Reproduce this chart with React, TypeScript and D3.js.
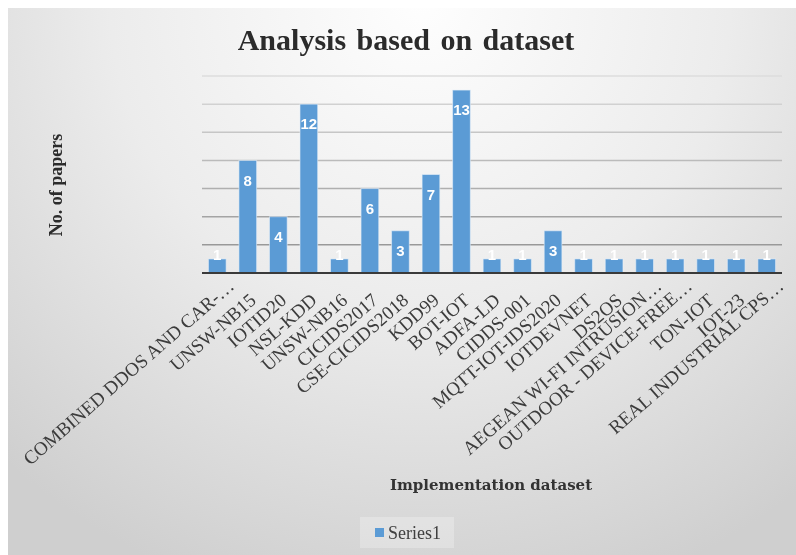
import React from "react";
import * as d3 from "d3";

const categories = [
  "COMBINED DDOS AND CAR-…",
  "UNSW-NB15",
  "IOTID20",
  "NSL-KDD",
  "UNSW-NB16",
  "CICIDS2017",
  "CSE-CICIDS2018",
  "KDD99",
  "BOT-IOT",
  "ADFA-LD",
  "CIDDS-001",
  "MQTT-IOT-IDS2020",
  "IOTDEVNET",
  "DS2OS",
  "AEGEAN WI-FI INTRUSION…",
  "OUTDOOR - DEVICE-FREE…",
  "TON-IOT",
  "IOT-23",
  "REAL INDUSTRIAL CPS…",
];
const series1 = [1, 8, 4, 12, 1, 6, 3, 7, 13, 1, 1, 3, 1, 1, 1, 1, 1, 1, 1];
const gridTicks = [2, 4, 6, 8, 10, 12, 14];
const seriesName = "Series1";
const title = "Analysis based on dataset";
const yTitle = "No. of papers";
const xTitle = "Implementation dataset";

export default function App() {
  const left = 202;
  const right = 782;
  const top = 76;
  const bottom = 273;
  const x = d3
    .scaleBand<string>()
    .domain(categories)
    .range([left, right])
    .paddingInner(0.42)
    .paddingOuter(0.21);
  const y = d3.scaleLinear().domain([0, 14]).range([bottom, top]);
  const gridColor = d3
    .scaleLinear<string>()
    .domain([2, 14])
    .range(["#999999", "#dcdcdc"]);
  const serif = "'Liberation Serif', 'Times New Roman', serif";

  return (
    <div style={{ position: "fixed", left: 8, top: 8 }}>
      <svg width={788} height={547} style={{ display: "block" }}>
        <defs>
          <radialGradient
            id="bg"
            gradientUnits="userSpaceOnUse"
            cx={420}
            cy={0}
            r={620}
          >
            <stop offset="0" stopColor="#fefefe" />
            <stop offset="0.5" stopColor="#ececec" />
            <stop offset="1" stopColor="#cfcfcf" />
          </radialGradient>
        </defs>
        <g transform="translate(-8,-8)">
          <rect x={8} y={8} width={788} height={547} fill="url(#bg)" />
          <text
            x={406}
            y={50}
            textAnchor="middle"
            fontFamily={serif}
            fontWeight="bold"
            fontSize={30}
            wordSpacing={3}
            fill="#2b2b2b"
          >
            {title}
          </text>
          {gridTicks.map((t) => (
            <line
              key={t}
              x1={left}
              x2={right}
              y1={y(t)}
              y2={y(t)}
              stroke={gridColor(t)}
              strokeWidth={1.5}
            />
          ))}
          {categories.map((c, i) => (
            <rect
              key={c}
              x={x(c)}
              y={y(series1[i])}
              width={x.bandwidth()}
              height={bottom - y(series1[i])}
              fill="#5b9bd5"
              stroke="#e8f0f8"
              strokeOpacity={0.6}
              strokeWidth={1}
            />
          ))}
          <line
            x1={left}
            x2={right}
            y1={bottom}
            y2={bottom}
            stroke="#3a3a3a"
            strokeWidth={2}
          />
          {categories.map((c, i) => (
            <text
              key={c}
              x={(x(c) as number) + x.bandwidth() / 2}
              y={Math.min(y(series1[i]) + 20, bottom - 18)}
              dy="0.35em"
              textAnchor="middle"
              fontFamily="'Liberation Sans', Arial, sans-serif"
              fontWeight="bold"
              fontSize={15}
              fill="#ffffff"
            >
              {series1[i]}
            </text>
          ))}
          {categories.map((c) => {
            const cx = (x(c) as number) + x.bandwidth() / 2;
            const truncated = c.endsWith("…");
            return (
              <text
                key={c}
                transform={`translate(${cx + 5},${bottom + 24}) rotate(-41)`}
                textAnchor="end"
                dx={truncated ? 16 : 0}
                y={truncated ? -5 : 0}
                dy="0.35em"
                fontFamily={serif}
                fontSize={19}
                fill="#3c3c3c"
              >
                {c}
              </text>
            );
          })}
          <text
            transform={`translate(62,185) rotate(-90)`}
            textAnchor="middle"
            fontFamily={serif}
            fontWeight="bold"
            fontSize={18}
            fill="#2b2b2b"
          >
            {yTitle}
          </text>
          <text
            x={491}
            y={490}
            textAnchor="middle"
            fontFamily="'DejaVu Serif', serif"
            fontWeight="bold"
            fontSize={15}
            fill="#333333"
          >
            {xTitle}
          </text>
          <rect
            x={360}
            y={517}
            width={94}
            height={31}
            fill="#ffffff"
            fillOpacity={0.25}
          />
          <rect x={375} y={528} width={9} height={9} fill="#5b9bd5" />
          <text
            x={388}
            y={539}
            fontFamily={serif}
            fontSize={18}
            fill="#404040"
          >
            {seriesName}
          </text>
        </g>
      </svg>
    </div>
  );
}
